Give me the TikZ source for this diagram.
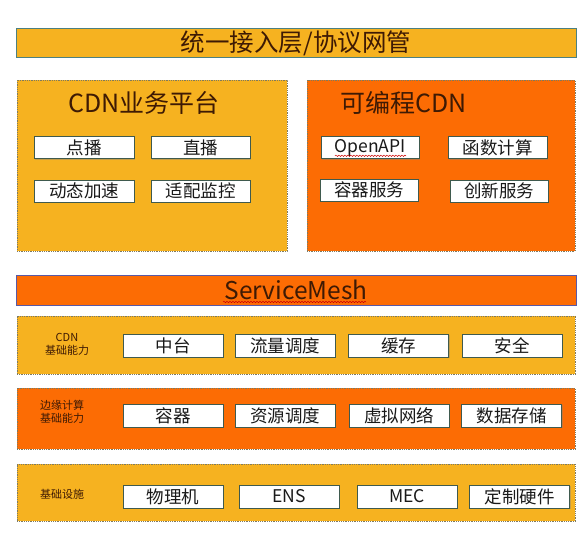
\documentclass[tikz,border=0pt]{standalone}
\usepackage{fontspec}
\setmainfont{Noto Sans CJK SC}
\usetikzlibrary{shadows,decorations.pathmorphing}
\definecolor{gold}{HTML}{F6B220}
\definecolor{orng}{HTML}{FC6C04}
\definecolor{titlec}{HTML}{3E1A04}
\definecolor{boxline}{HTML}{3F5A4E}
\definecolor{dotline}{HTML}{7E7A60}
\tikzset{
  bar/.style={draw=#1, line width=1pt, inner sep=0pt, drop shadow={shadow xshift=0.8pt,shadow yshift=-1.2pt,opacity=0.35}},
  band/.style={draw=dotline, densely dotted, line width=0.8pt, inner sep=0pt},
  wbox/.style={draw=boxline, line width=0.9pt, fill=white, minimum width=100pt, minimum height=22pt, inner sep=0pt,
    font=\fontsize{17.5}{19}\selectfont, text=black!90, drop shadow={shadow xshift=1pt,shadow yshift=-1pt,opacity=0.4}},
  ttl/.style={font=\fontsize{25}{27}\selectfont, text=titlec, anchor=west, inner sep=0pt},
  lab/.style={font=\fontsize{11}{13}\selectfont, text=titlec, inner sep=0pt},
  wavy/.style={draw=red!80!black, line width=0.5pt, decorate, decoration={snake, amplitude=0.7pt, segment length=3pt}}
}
\begin{document}
\begin{tikzpicture}[x=1pt,y=-1pt]
\useasboundingbox (0,0) rectangle (588,543);
% top bar
\node[bar=gray!60!teal, fill=gold, minimum width=560pt, minimum height=28pt, font=\fontsize{24.5}{26}\selectfont, text=titlec] (top) at (296,43) {统一接入层/协议网管};
% upper platforms
\node[band, fill=gold, minimum width=270pt, minimum height=171pt] (cdn) at (152,165.5) {};
\node[band, fill=orng, minimum width=268pt, minimum height=171pt] (pcdn) at (441,165.5) {};
\node[ttl] (cdnt) at (68,103) {CDN业务平台};
\node[ttl] (pcdnt) at (340,103) {可编程CDN};
\node[wbox] (db) at (84,147.5) {点播};
\node[wbox, minimum width=99pt] (zb) at (200.5,147.5) {直播};
\node[wbox] (dt) at (84,191) {动态加速};
\node[wbox, minimum width=99pt] (sp) at (200.5,191) {适配监控};
\node[wbox, minimum width=98pt] (oa) at (370,147.5) {OpenAPI};
\node[wbox, minimum width=99pt] (hs) at (497.5,147.5) {函数计算};
\node[wbox, minimum width=98pt] (rq) at (369,190) {容器服务};
\node[wbox, minimum width=98pt] (cx) at (499,191) {创新服务};
\coordinate (oaw1) at (335,155.8);
\coordinate (oaw2) at (406,155.8);
\draw[wavy] (oaw1) -- (oaw2);
% service mesh
\node[bar=gray!70!blue, fill=orng, minimum width=560pt, minimum height=30pt, font=\fontsize{24.5}{26}\selectfont, text=titlec] (sm) at (296,290) {ServiceMesh};
\coordinate (smw1) at (223,302);
\coordinate (smw2) at (366,302);
\draw[wavy] (smw1) -- (smw2);
% CDN base
\node[band, fill=gold, minimum width=558pt, minimum height=58pt] (b1) at (296,345) {};
\node[lab, align=center] (b1l) at (67,344) {CDN\\基础能力};
\node[wbox, minimum height=23pt] (zt) at (173,345.5) {中台};
\node[wbox, minimum height=23pt] (ll) at (285,345.5) {流量调度};
\node[wbox, minimum height=23pt] (hc) at (398.5,345.5) {缓存};
\node[wbox, minimum height=23pt] (aq) at (512,345.5) {安全};
% edge computing
\node[band, fill=orng, minimum width=558pt, minimum height=61pt] (b2) at (296,418.5) {};
\node[lab, align=left, anchor=west] (b2l) at (40,412) {边缘计算\\基础能力};
\node[wbox, minimum height=23pt] (rq2) at (173,415.5) {容器};
\node[wbox, minimum height=23pt] (zy) at (285,415.5) {资源调度};
\node[wbox, minimum height=23pt] (xn) at (399,415.5) {虚拟网络};
\node[wbox, minimum height=23pt] (sj) at (511.5,415.5) {数据存储};
% infrastructure
\node[band, fill=gold, minimum width=558pt, minimum height=57pt] (b3) at (296,492.5) {};
\node[lab, anchor=west] (b3l) at (40,494) {基础设施};
\node[wbox, minimum height=23pt] (wl) at (173,496.5) {物理机};
\node[wbox, minimum height=23pt] (ens) at (289,496.5) {ENS};
\node[wbox, minimum height=23pt] (mec) at (407,496.5) {MEC};
\node[wbox, minimum height=23pt] (dz) at (519.5,496.5) {定制硬件};
\end{tikzpicture}
\end{document}
